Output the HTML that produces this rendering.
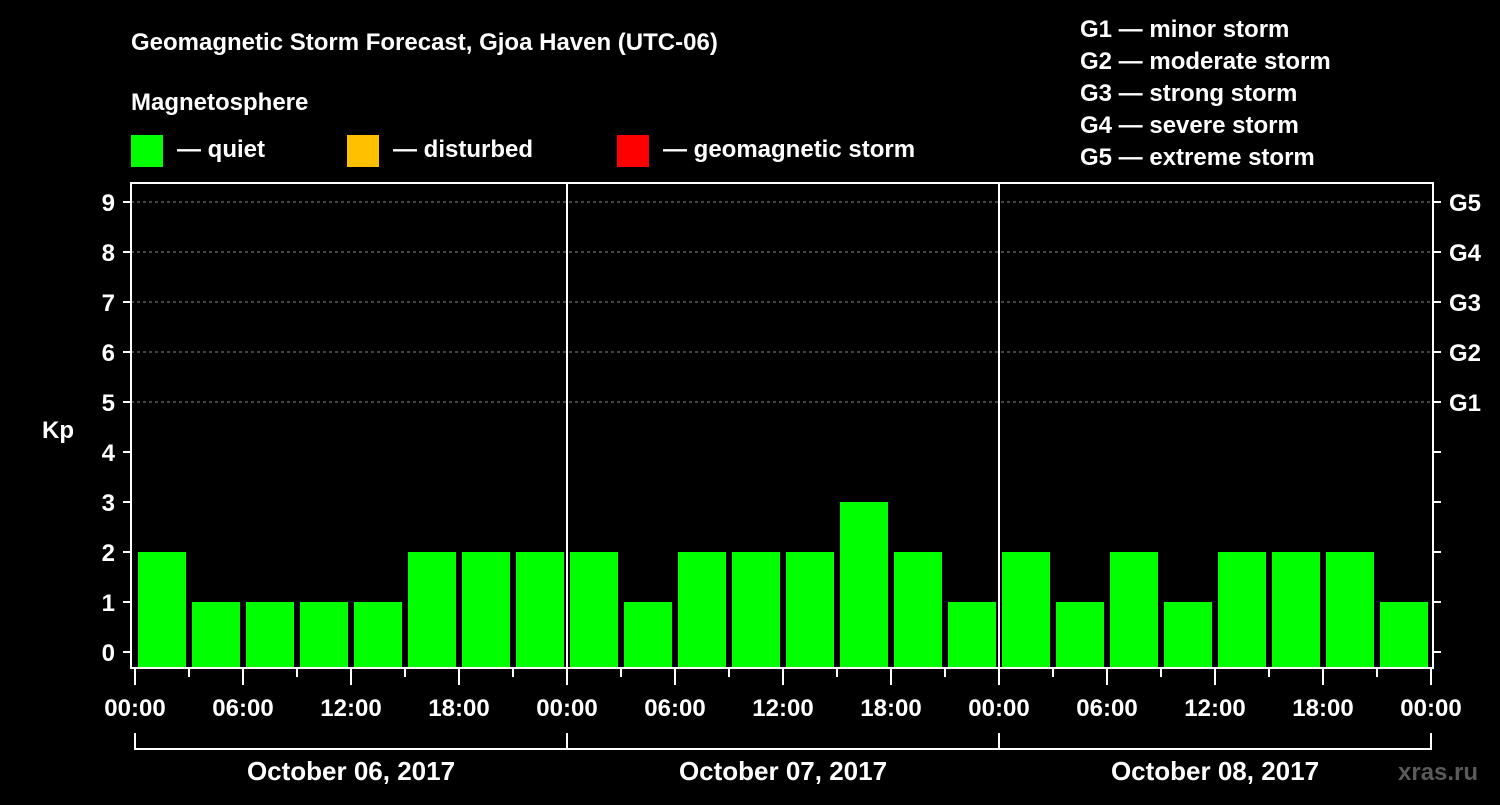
<!DOCTYPE html>
<html><head><meta charset="utf-8"><style>
body{margin:0;background:#000;width:1500px;height:800px;overflow:hidden}
svg text{font-family:"Liberation Sans",Arial,sans-serif;font-weight:bold;fill:#fff}
</style></head><body>
<svg id="c" width="1500" height="800" xmlns="http://www.w3.org/2000/svg">
<text x="131" y="50" font-size="24">Geomagnetic Storm Forecast, Gjoa Haven (UTC-06)</text>
<text x="131" y="110" font-size="24">Magnetosphere</text>
<g><rect x="131" y="135" width="32" height="32" fill="#00ff00"/><text x="177" y="157" font-size="24">— quiet</text></g>
<g><rect x="347" y="135" width="32" height="32" fill="#ffc000"/><text x="393" y="157" font-size="24">— disturbed</text></g>
<g><rect x="617" y="135" width="32" height="32" fill="#ff0000"/><text x="663" y="157" font-size="24">— geomagnetic storm</text></g>
<g font-size="24">
<text x="1080" y="37">G1 — minor storm</text>
<text x="1080" y="69">G2 — moderate storm</text>
<text x="1080" y="101">G3 — strong storm</text>
<text x="1080" y="133">G4 — severe storm</text>
<text x="1080" y="165">G5 — extreme storm</text>
</g>
<text x="42" y="438" font-size="24">Kp</text>
<text x="1398" y="780" font-size="24" fill="#555" style="fill:#5a5a5a">xras.ru</text>
<g id="plot"></g>
</svg>
<script>
const days = ["October 06, 2017","October 07, 2017","October 08, 2017"];
const kp = [2,1,1,1,1,2,2,2, 2,1,2,2,2,3,2,1, 2,1,2,1,2,2,2,1];
const yTicks = [0,1,2,3,4,5,6,7,8,9];
const gLabels = ["G1","G2","G3","G4","G5"];
const timeLabels = ["00:00","06:00","12:00","18:00"];

const NS="http://www.w3.org/2000/svg";
const g=document.getElementById('plot');
const X0=135, DAYW=432, BOTTOM=668, TOP=183, LEFT=131, RIGHT=1433;
const xs = h => X0 + h*DAYW/24;
const ys = v => 652 - v*50;
function mk(t,a,p){const e=document.createElementNS(NS,t);for(const k in a)e.setAttribute(k,a[k]);(p||g).appendChild(e);return e;}

// grid
for(const v of [5,6,7,8,9]){
  const l=mk('line',{x1:LEFT,x2:RIGHT,y1:ys(v),y2:ys(v),stroke:'#888','stroke-dasharray':'3,3','stroke-width':1});
  
  
}
// bars
kp.forEach((v,i)=>{
  const c = v>=5?'#ff0000':(v>=4?'#ffc000':'#00ff00');
  const r=mk('rect',{x:xs(i*3)+3,y:ys(v),width:48,height:BOTTOM-ys(v),fill:c});
  
  
});
// day separators
for(let d=1;d<days.length;d++){
  const l=mk('line',{x1:xs(24*d),x2:xs(24*d),y1:TOP,y2:BOTTOM,stroke:'#fff','stroke-width':2});
  
  
}
// frame
const f=mk('rect',{x:LEFT,y:TOP,width:RIGHT-LEFT,height:BOTTOM-TOP,fill:'none',stroke:'#fff','stroke-width':2});


// y ticks
yTicks.forEach(v=>{
  mk('line',{x1:123,x2:LEFT,y1:ys(v),y2:ys(v),stroke:'#fff','stroke-width':2});
  mk('line',{x1:RIGHT,x2:1441,y1:ys(v),y2:ys(v),stroke:'#fff','stroke-width':2});
  const t=mk('text',{x:115,y:ys(v)+9,'text-anchor':'end','font-size':24});
  t.textContent=v;
  
  
});
gLabels.forEach((s,i)=>{
  const t=mk('text',{x:1449,y:ys(5+i)+9,'font-size':24});
  t.textContent=s;
  
  
});
// x ticks
for(let h=0;h<=24*days.length;h+=3){
  const major=h%6===0;
  mk('line',{x1:xs(h),x2:xs(h),y1:BOTTOM,y2:major?685:677,stroke:'#fff','stroke-width':2});
  if(major){
    const t=mk('text',{x:xs(h),y:716,'text-anchor':'middle','font-size':24});
    t.textContent=timeLabels[(h%24)/6];
    
    
  }
}
// day brackets
days.forEach((d,i)=>{
  const a=xs(24*i), b=xs(24*(i+1));
  mk('path',{d:`M${a},733V749H${b}V733`,fill:'none',stroke:'#fff','stroke-width':2});
  const t=mk('text',{x:(a+b)/2,y:780,'text-anchor':'middle','font-size':26});
  t.textContent=d;
  
  
});
</script>
</body></html>
